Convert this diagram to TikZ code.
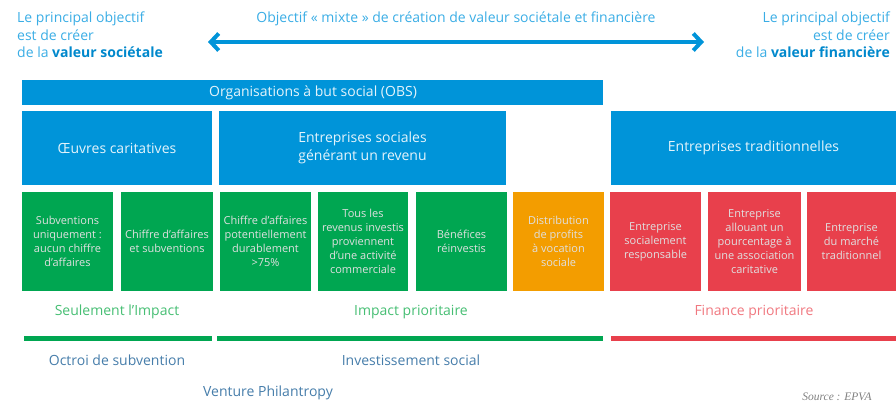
\documentclass[tikz,border=0pt]{standalone}
\usepackage{fontspec}
\setmainfont{Open Sans}
\newfontfamily\srcfont{Liberation Serif}
\usetikzlibrary{arrows.meta}
\definecolor{cblue}{RGB}{0,148,217}
\definecolor{cgreen}{RGB}{0,166,81}
\definecolor{corange}{RGB}{243,157,0}
\definecolor{cred}{RGB}{232,64,76}
\definecolor{tblue}{RGB}{58,173,229}
\definecolor{tbold}{RGB}{0,136,204}
\definecolor{tgreen}{RGB}{70,190,115}
\definecolor{tred}{RGB}{240,120,128}
\definecolor{tsteel}{RGB}{70,125,170}
\tikzset{
  box/.style={fill=#1, draw=none, inner sep=0pt, outer sep=0pt},
  boxlabel/.style={text=white!88!black, align=center, font=\fontsize{11}{14}\selectfont},
  biglabel/.style={text=white!90!cblue, align=center, font=\fontsize{14}{18}\selectfont},
  toptext/.style={text=tblue, font=\fontsize{14}{17.5}\selectfont, inner sep=0pt},
  catlabel/.style={font=\fontsize{14}{16}\selectfont, inner sep=0pt},
  bar/.style={fill=#1, draw=none, inner sep=0pt, outer sep=0pt}
}
\newcommand{\rbox}[6]{% name, x1,y1,x2,y2, color
  \path[box=#6] (#2,#3) rectangle (#4,#5);
  \node[inner sep=0pt, minimum width={#4-#2}, minimum height={#5-#3}] (#1) at ({(#2+#4)/2},{(#3+#5)/2}) {};
}
\begin{document}
\begin{tikzpicture}[x=1pt,y=-1pt]
\useasboundingbox (0,0) rectangle (896,404);

% top texts
\node[toptext, anchor=north west, align=left] (lt) at (17,12) {Le principal objectif\\est de créer\\de la \textbf{\color{tbold}valeur sociétale}};
\node[toptext, anchor=north east, align=right] (rt) at (890,12) {Le principal objectif\\est de créer\\de la \textbf{\color{tbold}valeur financière}};
\node[toptext] (mid) at (456,19) {Objectif « mixte » de création de valeur sociétale et financière};
\coordinate (al) at (208,42);
\coordinate (ar) at (704,42);
\draw[cblue, line width=4pt, {Straight Barb[length=8pt,width=17pt]}-{Straight Barb[length=8pt,width=17pt]}] (al) -- (ar);

% OBS bar
\rbox{obs}{22}{80}{603}{105}{cblue}
\node[biglabel] at (313,93) {Organisations à but social (OBS)};

% row 2
\rbox{oeuvres}{22}{111}{212}{185}{cblue}
\node[biglabel] at (oeuvres) {Œuvres caritatives};
\rbox{esoc}{219}{111}{506}{185}{cblue}
\node[biglabel] at (esoc) {Entreprises sociales\\générant un revenu};
\rbox{etrad}{611}{111}{896}{185}{cblue}
\node[biglabel] at (etrad) {Entreprises traditionnelles};

% row 3
\rbox{g1}{22}{192}{113}{291}{cgreen}
\node[boxlabel] at (g1) {Subventions\\uniquement :\\aucun chiffre\\d’affaires};
\rbox{g2}{121}{192}{213}{291}{cgreen}
\node[boxlabel] at (g2) {Chiffre d’affaires\\et subventions};
\rbox{g3}{220}{192}{311}{291}{cgreen}
\node[boxlabel] at (g3) {Chiffre d’affaires\\potentiellement\\durablement\\>75\%};
\rbox{g4}{318}{192}{408}{291}{cgreen}
\node[boxlabel] at (g4) {Tous les\\revenus investis\\proviennent\\d’une activité\\commerciale};
\rbox{g5}{416}{192}{507}{291}{cgreen}
\node[boxlabel] at (g5) {Bénéfices\\réinvestis};
\rbox{o1}{513}{192}{604}{291}{corange}
\node[boxlabel] at (o1) {Distribution\\de profits\\à vocation\\sociale};
\rbox{r1}{610}{192}{701}{291}{cred}
\node[boxlabel] at (r1) {Entreprise\\socialement\\responsable};
\rbox{r2}{708}{192}{801}{291}{cred}
\node[boxlabel] at (r2) {Entreprise\\allouant un\\pourcentage à\\une association\\caritative};
\rbox{r3}{807}{192}{896}{291}{cred}
\node[boxlabel] at (r3) {Entreprise\\du marché\\traditionnel};

% category labels
\node[catlabel, text=tgreen] (c1) at (117,312) {Seulement l’Impact};
\node[catlabel, text=tgreen] (c2) at (411,312) {Impact prioritaire};
\node[catlabel, text=tred] (c3) at (754,312) {Finance prioritaire};

% bars
\path[bar=cgreen] (24,336) rectangle (212,341);
\path[bar=cgreen] (217,336) rectangle (603,341);
\path[bar=cred] (611,336) rectangle (896,341);

% bottom labels
\node[catlabel, text=tsteel] (b1) at (117,360) {Octroi de subvention};
\node[catlabel, text=tsteel] (b2) at (411,360) {Investissement social};
\node[catlabel, text=tsteel] (b3) at (268,393) {Venture Philantropy};
\node[inner sep=0pt, text=gray, font=\srcfont\itshape\fontsize{11.5}{14}\selectfont] (src) at (837,397) {Source : EPVA};
\end{tikzpicture}
\end{document}
